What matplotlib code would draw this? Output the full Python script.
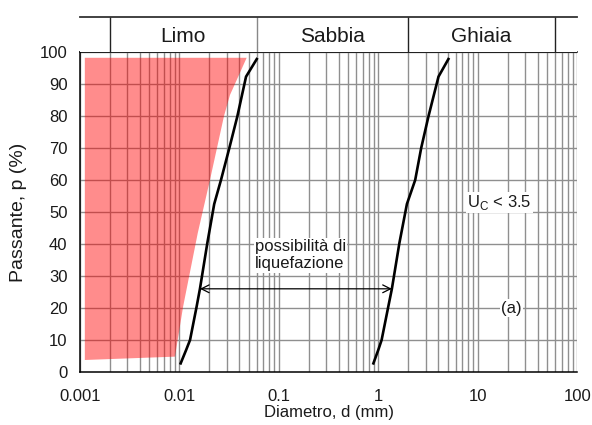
import matplotlib
matplotlib.use("Agg")
import matplotlib.pyplot as plt
import numpy as np

plt.rcParams['font.family'] = ['Liberation Sans', 'DejaVu Sans']

# curva a sinistra (fuso fine)
d_fine = [0.0103, 0.0117, 0.0128, 0.0149, 0.0161, 0.0191, 0.0224, 0.0262, 0.0318, 0.0382, 0.0468, 0.0600]
p_fine = [2.7, 6.9, 10, 20.4, 26, 40.3, 52.5, 60, 70, 79.8, 92.3, 97.8]
# curva a destra (fuso grosso)
d_coarse = [0.893, 1.00, 1.08, 1.26, 1.37, 1.63, 1.94, 2.35, 2.70, 3.19, 4.03, 5.07]
p_coarse = [2.7, 6.9, 10, 20.4, 26, 40.3, 52.5, 60, 70, 79.8, 92.3, 97.8]
# zona rossa
d_zone = [0.00112, 0.00903, 0.0109, 0.0153, 0.0203, 0.0281, 0.0323, 0.0475, 0.00112]
p_zone = [3.75, 4.8, 20.4, 43.4, 60, 80, 86.6, 98.2, 98.2]

classes = ['Limo', 'Sabbia', 'Ghiaia']
class_bounds = [0.002, 0.06, 2, 60]
arrow_p = 26

fig = plt.figure(figsize=(5.92, 4.25), dpi=100)
ax = fig.add_axes([0.135, 0.1247, 0.84, 0.7529])
hd = fig.add_axes([0.135, 0.8776, 0.84, 0.0824])

ax.set_xscale('log')
ax.set_xlim(0.001, 100)
ax.set_ylim(0, 100)

# griglia
minors = [m * 10.0**e for e in range(-3, 2) for m in range(1, 10)] + [100]
for x in minors:
    ax.axvline(x, color='#8f8f8f', lw=1.0, zorder=0.5)
for y in range(10, 101, 10):
    ax.axhline(y, color='#8f8f8f', lw=1.0, zorder=0.5)

ax.fill(d_zone, p_zone, color='red', alpha=0.45, lw=0, zorder=1)
ax.plot(d_fine, p_fine, color='black', lw=1.9, zorder=3)
ax.plot(d_coarse, p_coarse, color='black', lw=1.9, zorder=3)

ax.annotate('', xy=(d_fine[4], arrow_p), xytext=(d_coarse[4], arrow_p),
            arrowprops=dict(arrowstyle='<->', color='black', lw=0.9,
                            mutation_scale=14, shrinkA=0, shrinkB=0), zorder=3)

box = dict(facecolor='white', edgecolor='none', pad=1.0)
ax.text(0.0576, 36.5, 'possibilità di\nliquefazione', fontsize=12, ha='left', va='center',
        color='#1a1a1a', linespacing=1.2, bbox=box, zorder=4)
ax.text(16.4, 53, r'U$_\mathregular{C}$ < 3.5', fontsize=12, ha='center', va='center',
        color='#1a1a1a', bbox=box, zorder=4)
ax.text(21.7, 20, '(a)', fontsize=12, ha='center', va='center',
        color='#1a1a1a', bbox=box, zorder=4)

ax.set_xticks([0.001, 0.01, 0.1, 1, 10, 100])
ax.set_xticklabels(['0.001', '0.01', '0.1', '1', '10', '100'])
ax.xaxis.set_minor_locator(matplotlib.ticker.NullLocator())
ax.set_yticks(range(0, 101, 10))
ax.tick_params(axis='x', length=0, pad=12, labelsize=12, labelcolor='#1a1a1a')
ax.tick_params(axis='y', length=0, pad=9, labelsize=12, labelcolor='#1a1a1a')
ax.set_xlabel('Diametro, d (mm)', fontsize=12, labelpad=1, color='#1a1a1a')
ax.set_ylabel('Passante, p (%)', fontsize=14, labelpad=9, color='#1a1a1a')

ax.spines['right'].set_visible(False)
for s in ['left', 'bottom', 'top']:
    ax.spines[s].set_color('black')
    ax.spines[s].set_linewidth(1.1)

# intestazione con le classi granulometriche
hd.set_xscale('log')
hd.set_xlim(0.001, 100)
hd.set_ylim(0, 1)
hd.set_xticks([])
hd.set_yticks([])
hd.xaxis.set_minor_locator(matplotlib.ticker.NullLocator())
for s in ['left', 'right', 'bottom']:
    hd.spines[s].set_visible(False)
hd.spines['top'].set_color('#333333')
hd.spines['top'].set_linewidth(1.3)
for i, b in enumerate(class_bounds):
    hd.axvline(b, color='#888888' if i == 1 else '#222222', lw=1.0)
for i, name in enumerate(classes):
    xc = np.sqrt(class_bounds[i] * class_bounds[i + 1])
    hd.text(xc, 0.45, name, fontsize=15, ha='center', va='center', color='#1a1a1a')

fig.savefig('out.png', dpi=100)
